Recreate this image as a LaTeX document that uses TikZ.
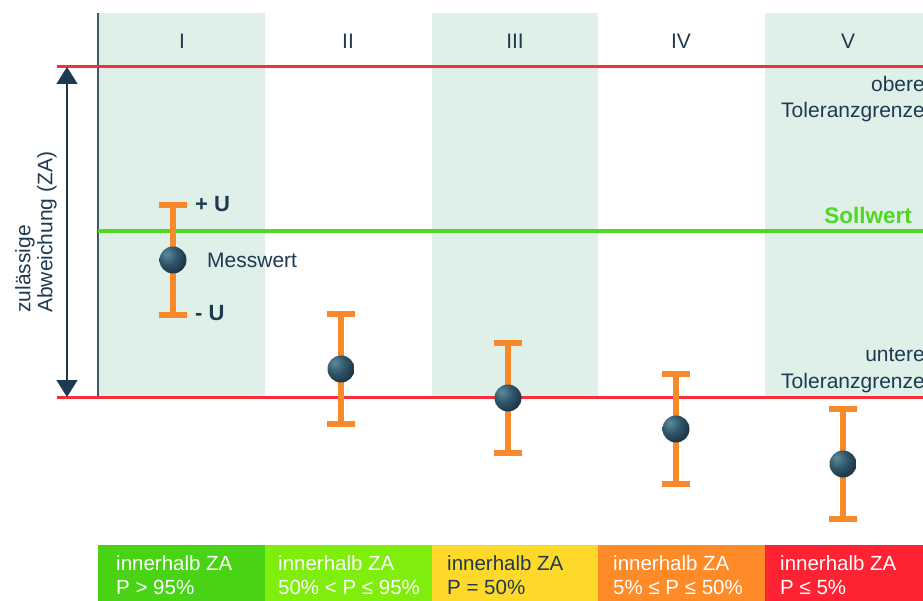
\documentclass[tikz,border=0pt]{standalone}
\usepackage{fontspec}
\setmainfont{Liberation Sans}
\usetikzlibrary{arrows.meta}
\definecolor{navy}{HTML}{1E3A52}
\definecolor{colshade}{HTML}{DEF0E8}
\definecolor{tolred}{HTML}{F5303C}
\definecolor{sollgreen}{HTML}{4ED820}
\definecolor{barorange}{HTML}{F7892B}
\definecolor{ballhi}{HTML}{5E8C9C}
\definecolor{ballmid}{HTML}{2F5568}
\definecolor{balldark}{HTML}{15293A}
\definecolor{boxA}{HTML}{48D414}
\definecolor{boxB}{HTML}{80EE0C}
\definecolor{boxC}{HTML}{FFD92A}
\definecolor{boxD}{HTML}{FF8A28}
\definecolor{boxE}{HTML}{FF2233}
\pgfdeclareradialshading{myball}{\pgfpoint{-12bp}{12bp}}{color(0bp)=(ballhi); color(18bp)=(ballmid); color(40bp)=(balldark); color(60bp)=(balldark); color(100bp)=(balldark)}
\begin{document}
\begin{tikzpicture}[x=1pt,y=-1pt,
  every node/.style={font=\fontsize{21}{25}\selectfont, text=navy, inner sep=0pt},
  collabel/.style={anchor=base},
  tollabel/.style={anchor=base east},
  boxfill/.style={minimum width=#1, minimum height=56, anchor=north west, draw=none},
  boxtext/.style={anchor=base west, text=#1, font=\fontsize{20.5}{24}\selectfont},
  errbar/.style={barorange, line width=6.5},
  ballnode/.style={circle, minimum size=27, shading=myball},
  tolline/.style={tolred, line width=3}]
\useasboundingbox (0,0) rectangle (923,601);
% shaded columns
\fill[colshade] (98,13) rectangle (265,397);
\fill[colshade] (432,13) rectangle (598,397);
\fill[colshade] (765,13) rectangle (923,397);
% column labels
\node[collabel] (cI) at (182,49) {I};
\node[collabel] (cII) at (348,49) {II};
\node[collabel] (cIII) at (515,49) {III};
\node[collabel] (cIV) at (681,49) {IV};
\node[collabel] (cV) at (848,49) {V};
% axis line
\coordinate (axtop) at (98,13);
\coordinate (axbot) at (98,397);
\draw[navy!85, line width=1.5] (axtop) -- (axbot);
% tolerance and set lines
\coordinate (ol) at (57,67); \coordinate (or) at (923,67);
\coordinate (ul) at (57,397); \coordinate (ur) at (923,397);
\coordinate (sl) at (98,231); \coordinate (sr) at (923,231);
\draw[tolline] (ol) -- (or);
\draw[tolline] (ul) -- (ur);
\draw[sollgreen, line width=3.5] (sl) -- (sr);
% double arrow
\coordinate (atop) at (67,67);
\coordinate (abot) at (67,397);
\draw[navy, line width=1.5, {Triangle[width=21pt,length=17pt]}-{Triangle[width=21pt,length=17pt]}] (atop) -- (abot);
\node[rotate=90, anchor=west, align=left, font=\fontsize{21}{22}\selectfont] (za) at (36,313) {zulässige\\Abweichung (ZA)};
% right labels
\node[tollabel] (ob1) at (925,92) {obere};
\node[tollabel] (ob2) at (925,118) {Toleranzgrenze};
\node[tollabel] (un1) at (925,361) {untere};
\node[tollabel] (un2) at (925,388) {Toleranzgrenze};
\node[anchor=east, text=sollgreen, font=\fontsize{22.5}{26}\selectfont\bfseries] (soll) at (912,215) {Sollwert};
% error bars
\foreach \n/\x/\y in {1/173/260, 2/341/369, 3/508/398, 4/676/429, 5/843/464} {
  \coordinate (t\n) at (\x,\y-55);
  \coordinate (b\n) at (\x,\y+55);
  \coordinate (tl\n) at (\x-14,\y-55);
  \coordinate (tr\n) at (\x+14,\y-55);
  \coordinate (bl\n) at (\x-14,\y+55);
  \coordinate (br\n) at (\x+14,\y+55);
  \draw[errbar] (t\n) -- (b\n);
  \draw[errbar] (tl\n) -- (tr\n);
  \draw[errbar] (bl\n) -- (br\n);
  \node[ballnode] (m\n) at (\x,\y) {};
}
\node[anchor=west, font=\fontsize{22}{26}\selectfont\bfseries] (plusu) at (195,204) {+ U};
\node[anchor=west, font=\fontsize{22}{26}\selectfont\bfseries] (minusu) at (195,313) {- U};
\node[anchor=west] (mess) at (207,260) {Messwert};
% bottom boxes
\node[boxfill=167, fill=boxA] (zA) at (98,545) {};
\node[boxfill=167, fill=boxB] (zB) at (265,545) {};
\node[boxfill=166, fill=boxC] (zC) at (432,545) {};
\node[boxfill=167, fill=boxD] (zD) at (598,545) {};
\node[boxfill=158, fill=boxE] (zE) at (765,545) {};
\node[boxtext=white] (a1) at (116,570) {innerhalb ZA};
\node[boxtext=white] (a2) at (116,594) {P > 95\%};
\node[boxtext=white] (b1) at (278,570) {innerhalb ZA};
\node[boxtext=white] (b2) at (278,594) {50\% < P ≤ 95\%};
\node[boxtext=navy] (c1) at (447,570) {innerhalb ZA};
\node[boxtext=navy] (c2) at (447,594) {P = 50\%};
\node[boxtext=white] (d1) at (613,570) {innerhalb ZA};
\node[boxtext=white] (d2) at (613,594) {5\% ≤ P ≤ 50\%};
\node[boxtext=white] (e1) at (780,570) {innerhalb ZA};
\node[boxtext=white] (e2) at (780,594) {P ≤ 5\%};
\end{tikzpicture}
\end{document}
